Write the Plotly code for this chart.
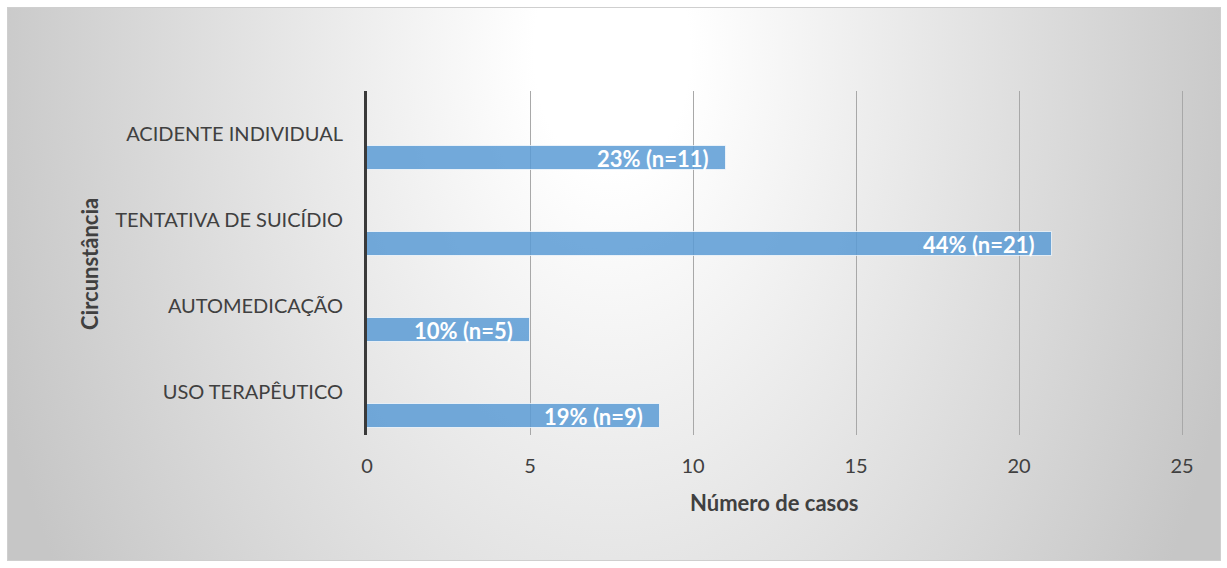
import base64
import plotly.graph_objects as go

categories = ["ACIDENTE INDIVIDUAL", "TENTATIVA DE SUICÍDIO", "AUTOMEDICAÇÃO", "USO TERAPÊUTICO"]
cases = [11, 21, 5, 9]
percent = [23, 44, 10, 19]
x_ticks = [0, 5, 10, 15, 20, 25]

labels = [f"{p}% (n={n})" for p, n in zip(percent, cases)]

W, H = 1227, 568
L, R, T, B = 367, 43, 91, 133
pw, ph = W - L - R, H - T - B

BAR_W = 0.28
BAR_OFF = 0.14

def px_to_paper_x(px):
    return (px - L) / pw

def px_to_paper_y(py):
    return (H - B - py) / ph

svg = (
    "<svg xmlns='http://www.w3.org/2000/svg' width='1214' height='554' viewBox='0 0 1214 554' preserveAspectRatio='none'>"
    "<defs><radialGradient id='g' gradientUnits='userSpaceOnUse' cx='0' cy='0' r='1' "
    "gradientTransform='translate(605,45) scale(650,1000)'>"
    "<stop offset='0' stop-color='#ffffff'/>"
    "<stop offset='0.12' stop-color='#ffffff'/>"
    "<stop offset='1' stop-color='#c6c6c6'/>"
    "</radialGradient></defs>"
    "<rect x='0' y='0' width='1214' height='554' fill='url(#g)' stroke='#cfcfcf' stroke-width='2'/></svg>"
)
src = "data:image/svg+xml;base64," + base64.b64encode(svg.encode()).decode()

font = "Lato, 'Open Sans', sans-serif"

fig = go.Figure()
fig.add_trace(go.Bar(
    y=categories,
    x=cases,
    orientation="h",
    width=BAR_W,
    offset=BAR_OFF,
    marker=dict(color="rgba(91,155,213,0.85)", line=dict(color="rgba(255,255,255,0.7)", width=1)),
    hoverinfo="skip",
))

annotations = []
for i, (val, lab) in enumerate(zip(cases, labels)):
    annotations.append(dict(
        x=val, y=i + BAR_OFF + BAR_W / 2, xref="x", yref="y",
        text=lab, showarrow=False, xanchor="right", yanchor="middle",
        xshift=-15,
        font=dict(family=font, size=22, color="white", weight="bold"),
    ))

annotations += [
    dict(text="Número de casos", xref="paper", yref="paper",
         x=px_to_paper_x(774), y=px_to_paper_y(503), showarrow=False,
         xanchor="center", yanchor="middle",
         font=dict(family=font, size=22, color="#404040", weight="bold")),
    dict(text="Circunstância", xref="paper", yref="paper",
         x=px_to_paper_x(89), y=px_to_paper_y(264), showarrow=False,
         textangle=-90, xanchor="center", yanchor="middle",
         font=dict(family=font, size=22, color="#404040", weight="bold")),
]

fig.update_layout(
    width=W, height=H,
    margin=dict(l=L, r=R, t=T, b=B, pad=0),
    paper_bgcolor="white",
    plot_bgcolor="rgba(0,0,0,0)",
    showlegend=False,
    bargap=0,
    images=[dict(
        source=src, xref="paper", yref="paper",
        x=px_to_paper_x(7), y=px_to_paper_y(7),
        sizex=px_to_paper_x(1221) - px_to_paper_x(7),
        sizey=px_to_paper_y(7) - px_to_paper_y(561),
        xanchor="left", yanchor="top", sizing="stretch", layer="below",
    )],
    xaxis=dict(
        range=[0, 25.06], tickvals=x_ticks, ticktext=[str(v) for v in x_ticks],
        showgrid=True, gridcolor="#a8a8a8", gridwidth=1,
        zeroline=False, showline=False,
        ticks="outside", ticklen=13, tickcolor="rgba(0,0,0,0)",
        tickfont=dict(family=font, size=20, color="#404040"),
        fixedrange=True,
    ),
    yaxis=dict(
        type="category", categoryorder="array", categoryarray=categories,
        autorange="reversed",
        showgrid=False, zeroline=False,
        showline=True, linecolor="#3a3a3a", linewidth=3,
        ticks="outside", ticklen=17, tickcolor="rgba(0,0,0,0)",
        tickfont=dict(family=font, size=20, color="#404040"),
        fixedrange=True,
    ),
    annotations=annotations,
)

fig.write_html("out.html")
